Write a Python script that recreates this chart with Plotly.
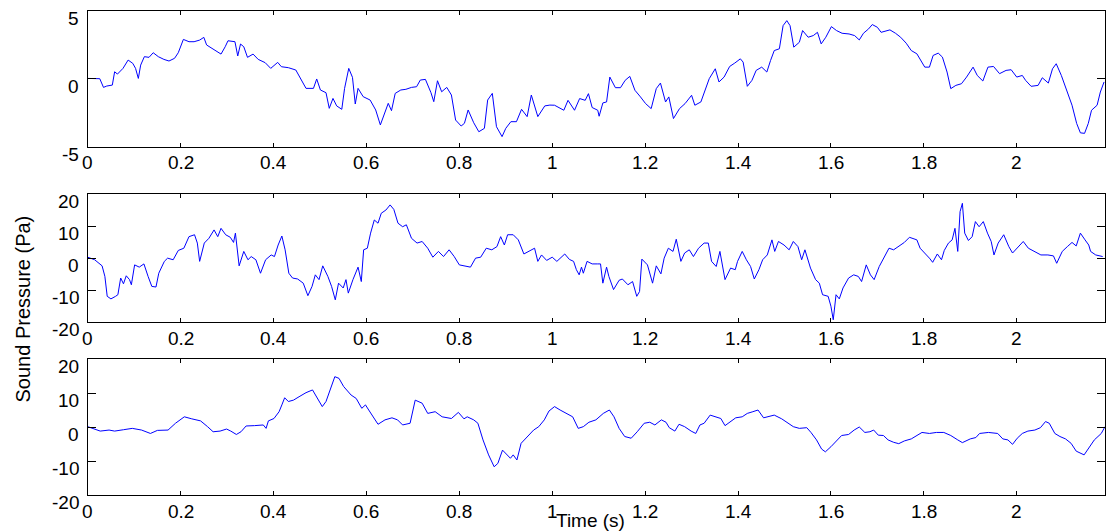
import plotly.graph_objects as go

# ---------------- data ----------------
t1 = [0, 0.026, 0.034, 0.041, 0.053, 0.058, 0.064, 0.076, 0.087, 0.097,
      0.103, 0.109, 0.114, 0.122, 0.132, 0.141, 0.152, 0.164, 0.175, 0.187,
      0.195, 0.206, 0.218, 0.229, 0.241, 0.25, 0.256, 0.271, 0.287, 0.296,
      0.302, 0.317, 0.323, 0.329, 0.336, 0.344, 0.356, 0.367, 0.382, 0.394,
      0.402, 0.409, 0.417, 0.432, 0.448, 0.459, 0.47, 0.486, 0.493, 0.501,
      0.513, 0.52, 0.528, 0.536, 0.547, 0.553, 0.562, 0.57, 0.576, 0.582,
      0.593, 0.608, 0.62, 0.63, 0.638, 0.647, 0.654, 0.662, 0.674, 0.685,
      0.697, 0.708, 0.716, 0.727, 0.739, 0.745, 0.753, 0.762, 0.773, 0.783,
      0.792, 0.804, 0.811, 0.819, 0.831, 0.842, 0.854, 0.861, 0.871, 0.88,
      0.892, 0.9, 0.911, 0.923, 0.934, 0.946, 0.955, 0.961, 0.969, 0.984,
      0.995,
      1.005, 1.017, 1.025, 1.034, 1.048, 1.059, 1.071, 1.078, 1.086, 1.098,
      1.101, 1.109, 1.117, 1.124, 1.136, 1.147, 1.157, 1.167, 1.178, 1.19,
      1.201, 1.213, 1.224, 1.233, 1.244, 1.251, 1.261, 1.274, 1.286, 1.3,
      1.307, 1.32, 1.328, 1.338, 1.351, 1.359, 1.37, 1.382, 1.393, 1.405,
      1.411, 1.42, 1.43, 1.439, 1.451, 1.462, 1.47, 1.478, 1.489, 1.497,
      1.505, 1.512, 1.52, 1.532, 1.539, 1.551, 1.562, 1.571, 1.579, 1.589,
      1.601, 1.612, 1.624, 1.639, 1.651, 1.661, 1.67, 1.681, 1.689, 1.7,
      1.708, 1.72, 1.727, 1.739, 1.75, 1.762, 1.773, 1.785, 1.793, 1.802,
      1.812, 1.82, 1.831, 1.84, 1.85, 1.858, 1.869, 1.881, 1.892, 1.906,
      1.915, 1.927, 1.938, 1.95, 1.963, 1.977, 1.988, 2.0, 2.012, 2.019,
      2.031, 2.046, 2.055, 2.068, 2.077, 2.085, 2.096, 2.108, 2.119, 2.129,
      2.137, 2.146, 2.154, 2.161, 2.173, 2.18, 2.188]
p1 = [0.02, 0.0, -0.64, -0.54, -0.47, 0.51, 0.34, 0.76, 1.37, 1.13,
      0.76, 0.02, 1.0, 1.62, 1.57, 1.91, 1.62, 1.42, 1.3, 1.5,
      1.91, 2.89, 2.72, 2.72, 2.84, 3.04, 2.48, 2.16, 1.81, 2.35,
      2.79, 2.72, 1.67, 2.55, 2.35, 1.57, 1.81, 1.42, 1.18, 0.76,
      1.0, 1.2, 0.88, 0.81, 0.64, -0.05, -0.71, -0.71, -0.02, -0.83,
      -1.03, -2.18, -1.45, -2.0, -2.25, -0.71, 0.76, 0.1, -1.86, -0.71,
      -1.32, -1.57, -2.3, -3.4, -2.67, -1.81, -2.35, -1.08, -0.83, -0.78,
      -0.64, -0.59, -0.1, -0.05, -1.03, -1.69, -0.15, -0.96, -0.64, -1.2,
      -3.04, -3.48, -3.28, -2.3, -3.24, -3.9, -3.65, -1.57, -1.08, -3.53,
      -4.26, -3.65, -3.16, -3.16, -2.25, -2.79, -1.2, -1.81, -2.79, -2.0,
      -1.94,
      -1.95, -2.2, -2.32, -1.59, -2.32, -1.46, -1.59, -1.1, -2.12, -2.32,
      -2.76, -1.78, -1.71, 0.12, -0.66, -0.66, -0.12, 0.17, -0.85, -1.34,
      -1.83, -2.2, -0.73, -0.32, -1.71, -1.34, -2.93, -2.2, -1.83, -1.22,
      -1.95, -1.71, -0.98, 0.0, 0.73, -0.24, 0.12, 0.9, 1.15, 1.46,
      1.22, -0.56, -0.12, 0.61, 0.85, 0.49, 1.34, 2.07, 2.2, 3.9,
      4.27, 3.9, 2.32, 2.68, 3.54, 3.05, 3.17, 3.41, 2.56, 3.05,
      3.83, 3.54, 3.34, 3.29, 3.17, 2.85, 3.34, 3.66, 3.98, 3.78,
      3.41, 3.54, 3.59, 3.34, 3.05, 2.61, 2.07, 1.83, 1.39, 0.85,
      0.85, 1.71, 1.88, 1.59, 0.49, -0.73, -0.49, -0.37, 0.12, 0.85,
      0.24, -0.17, 0.85, 0.9, 0.37, 0.61, 0.66, 0.12, 0.24, -0.12,
      -0.56, -0.49, 0.07, -0.32, 0.73, 1.1, 0.24, -0.85, -1.95, -3.29,
      -3.98, -4.02, -3.29, -2.32, -1.95, -0.98, -0.24]

t2 = [0, 0.015, 0.031, 0.037, 0.042, 0.05, 0.06, 0.065, 0.071, 0.077,
      0.083, 0.09, 0.094, 0.101, 0.111, 0.121, 0.13, 0.138, 0.147, 0.153,
      0.165, 0.172, 0.184, 0.195, 0.207, 0.218, 0.23, 0.236, 0.241, 0.251,
      0.261, 0.272, 0.28, 0.287, 0.297, 0.307, 0.314, 0.318, 0.326, 0.336,
      0.345, 0.352, 0.362, 0.372, 0.383, 0.395, 0.402, 0.41, 0.418, 0.425,
      0.433, 0.441, 0.452, 0.464, 0.474, 0.483, 0.49, 0.498, 0.506, 0.517,
      0.525, 0.533, 0.54, 0.55, 0.556, 0.561, 0.571, 0.579, 0.582, 0.589,
      0.594, 0.602, 0.609, 0.617, 0.625, 0.632, 0.642, 0.651, 0.659, 0.668,
      0.678, 0.686, 0.697, 0.709, 0.72, 0.732, 0.743, 0.755, 0.766, 0.778,
      0.789, 0.8, 0.812, 0.824, 0.835, 0.846, 0.858, 0.87, 0.881, 0.889,
      0.897, 0.904, 0.916, 0.927, 0.939, 0.95, 0.962, 0.969, 0.977, 0.988,
      1.0,
      1.01, 1.021, 1.027, 1.037, 1.046, 1.052, 1.058, 1.063, 1.067, 1.075,
      1.086, 1.098, 1.104, 1.109, 1.117, 1.122, 1.132, 1.144, 1.151, 1.163,
      1.173, 1.182, 1.188, 1.193, 1.205, 1.216, 1.224, 1.234, 1.241, 1.25,
      1.26, 1.267, 1.277, 1.285, 1.295, 1.304, 1.315, 1.327, 1.336, 1.343,
      1.353, 1.361, 1.372, 1.384, 1.394, 1.399, 1.409, 1.418, 1.427, 1.435,
      1.445, 1.453, 1.463, 1.473, 1.479, 1.487, 1.499, 1.51, 1.519, 1.529,
      1.537, 1.544, 1.556, 1.567, 1.575, 1.582, 1.594, 1.6, 1.605, 1.611,
      1.618, 1.626, 1.638, 1.649, 1.659, 1.666, 1.676, 1.685, 1.693, 1.704,
      1.714, 1.725, 1.735, 1.747, 1.758, 1.769, 1.785, 1.792, 1.802, 1.812,
      1.819, 1.829, 1.838, 1.844, 1.853, 1.861, 1.867, 1.873, 1.878, 1.883,
      1.888, 1.896, 1.904, 1.911, 1.919, 1.928, 1.937, 1.945, 1.951, 1.96,
      1.972, 1.983, 1.991, 2.0, 2.014, 2.025, 2.037, 2.052, 2.067, 2.079,
      2.086, 2.098, 2.109, 2.119, 2.128, 2.137, 2.147, 2.155, 2.159, 2.17,
      2.185]
p2 = [0.3, -0.5, -2.4, -5.7, -11.9, -12.7, -11.9, -11.4, -6.2, -8.0,
      -5.5, -6.7, -8.3, -2.1, -2.8, -1.8, -5.7, -8.8, -9.0, -4.7,
      -1.0, 0.0, -0.5, 2.4, 3.1, 6.7, 7.3, 4.7, -1.0, 4.7,
      6.2, 8.8, 6.7, 9.3, 7.3, 6.5, 4.9, 7.8, -2.4, 2.1,
      -0.5, 0.5, -0.5, -4.7, -0.5, 1.0, 0.5, 4.1, 6.9, 2.6,
      -4.7, -6.2, -6.5, -7.8, -11.7, -8.8, -5.2, -6.7, -2.4, -5.7,
      -8.8, -13.0, -7.8, -9.3, -6.7, -10.9, -6.7, -3.6, -2.8, -7.3,
      2.6, 3.1, 7.8, 11.9, 10.9, 14.0, 15.0, 16.6, 15.2, 10.9,
      9.8, 10.4, 6.2, 4.7, 5.2, 3.1, 0.3, 2.1, 0.5, 2.6,
      0.5, -2.1, -2.4, -2.8, 0.0, 0.3, 3.1, 2.6, 3.6, 6.7,
      4.1, 7.3, 7.3, 5.7, 1.3, 2.1, 3.1, -1.0, 1.0, -0.7,
      0.3,
      -1.0, 0.7, 1.3, -0.4, -1.0, -3.6, -5.2, -2.8, -4.7, -1.0,
      -1.8, -1.8, -1.8, -7.8, -2.8, -5.7, -9.8, -6.9, -6.5, -8.3,
      -7.3, -11.9, -10.4, -0.3, -2.1, -7.8, -2.4, -4.9, 0.0, 3.1,
      2.1, 5.9, -1.0, 1.6, 2.6, 0.5, 3.1, 4.7, 4.7, -1.0,
      -2.6, 2.1, -6.7, -3.1, -3.6, -1.0, 2.1, -0.5, -2.6, -6.5,
      -3.6, -0.5, 1.0, 5.7, 2.1, 5.2, 4.1, 2.6, 5.2, 3.6,
      -0.5, 2.6, -3.1, -6.7, -7.8, -11.4, -11.9, -15.0, -19.2, -11.4,
      -12.7, -9.3, -6.2, -5.2, -5.7, -7.3, -2.1, -5.2, -6.7, -2.6,
      0.0, 3.1, 2.6, 3.8, 4.9, 6.5, 5.7, 3.1, 1.6, 0.0,
      -1.3, 1.3, -0.5, 2.4, 4.7, 5.7, 9.3, 2.1, 14.5, 17.1,
      7.8, 5.5, 6.7, 11.4, 9.8, 11.4, 7.8, 5.2, 1.0, 4.7,
      7.3, 3.6, 1.6, 3.1, 5.2, 3.1, 2.1, 1.0, 1.0, 0.7,
      -1.6, 2.1, 3.6, 4.9, 3.8, 7.8, 5.7, 4.1, 2.1, 1.0,
      0.5]

t3 = [0, 0.012, 0.027, 0.046, 0.058, 0.077, 0.096, 0.116, 0.135, 0.15,
      0.173, 0.189, 0.208, 0.224, 0.243, 0.258, 0.27, 0.285, 0.299, 0.308,
      0.32, 0.33, 0.341, 0.359, 0.378, 0.384, 0.389, 0.401, 0.412, 0.418,
      0.424, 0.432, 0.443, 0.455, 0.47, 0.484, 0.493, 0.505, 0.513, 0.523,
      0.532, 0.541, 0.551, 0.567, 0.578, 0.59, 0.598, 0.605, 0.617, 0.625,
      0.64, 0.655, 0.667, 0.678, 0.694, 0.705, 0.72, 0.732, 0.748, 0.763,
      0.783, 0.798, 0.81, 0.817, 0.831, 0.84, 0.851, 0.863, 0.875, 0.883,
      0.893, 0.902, 0.91, 0.916, 0.924, 0.933, 0.948, 0.96, 0.971, 0.983,
      0.993,
      1.005, 1.017, 1.032, 1.044, 1.056, 1.067, 1.079, 1.094, 1.11, 1.123,
      1.133, 1.144, 1.156, 1.17, 1.183, 1.198, 1.21, 1.221, 1.235, 1.245,
      1.252, 1.264, 1.273, 1.285, 1.299, 1.309, 1.318, 1.327, 1.34, 1.353,
      1.363, 1.372, 1.383, 1.395, 1.409, 1.42, 1.432, 1.443, 1.455, 1.466,
      1.478, 1.494, 1.507, 1.519, 1.532, 1.548, 1.557, 1.569, 1.58, 1.588,
      1.6, 1.611, 1.623, 1.638, 1.65, 1.661, 1.673, 1.684, 1.692, 1.702,
      1.713, 1.723, 1.735, 1.746, 1.758, 1.773, 1.785, 1.796, 1.812, 1.827,
      1.843, 1.858, 1.873, 1.883, 1.9, 1.912, 1.92, 1.939, 1.959, 1.97,
      1.981, 1.991, 2.001, 2.012, 2.024, 2.039, 2.051, 2.062, 2.07, 2.082,
      2.093, 2.105, 2.117, 2.128, 2.145, 2.155, 2.167, 2.182, 2.19]
p3 = [0.1, -0.4, -1.2, -0.9, -1.2, -0.8, -0.4, -0.9, -1.9, -1.0,
      -0.9, 1.1, 3.0, 2.4, 1.8, 0.1, -1.4, -1.2, -0.6, -1.2,
      -2.2, -1.4, 0.3, 0.4, 0.6, -0.4, 1.8, 2.5, 4.5, 6.5,
      8.6, 7.5, 7.9, 8.9, 10.1, 10.9, 8.9, 6.0, 7.5, 11.4,
      14.8, 14.3, 11.9, 9.4, 8.4, 5.5, 6.5, 5.0, 2.5, 0.8,
      2.1, 2.7, 2.1, 0.6, 1.1, 7.9, 7.0, 4.0, 4.5, 3.0,
      2.5, 4.3, 2.4, 3.0, 2.1, 1.1, -3.8, -8.2, -11.7, -10.7,
      -6.8, -8.2, -9.2, -8.2, -9.7, -4.8, -2.8, -0.9, 0.1, 2.1,
      4.7,
      6.0, 5.0, 4.0, 3.0, -0.4, 0.1, 1.4, 2.1, 4.0, 5.0,
      3.0, -0.4, -2.8, -3.3, -1.4, 1.1, 1.4, 0.6, 2.1, 1.4,
      -0.2, -1.2, 0.8, 0.1, -1.2, -1.9, 0.6, 1.1, 3.5, 3.0,
      2.5, 0.4, 1.6, 2.7, 3.0, 4.0, 4.5, 5.0, 2.7, 3.0,
      3.5, 2.4, 1.1, 0.1, -0.4, -0.2, -1.6, -3.8, -6.5, -7.3,
      -5.8, -4.3, -2.5, -2.2, -0.9, 0.0, -1.6, -1.4, -0.9, -2.4,
      -2.5, -3.8, -4.5, -4.9, -4.1, -3.5, -2.4, -1.6, -1.9, -1.6,
      -1.6, -2.5, -3.8, -4.6, -3.5, -3.1, -1.9, -1.6, -1.9, -3.5,
      -3.8, -5.1, -3.3, -1.9, -1.2, -0.9, -0.2, 1.6, 1.1, -1.9,
      -2.8, -3.5, -4.8, -7.1, -8.2, -6.3, -3.8, -1.9, 0.1]

x_ticks = [0, 0.2, 0.4, 0.6, 0.8, 1.0, 1.2, 1.4, 1.6, 1.8, 2.0]
x_tick_labels = ["0", "0.2", "0.4", "0.6", "0.8", "1", "1.2", "1.4", "1.6", "1.8", "2"]
y1_ticks = [-5, 0, 5]
y23_ticks = [-20, -10, 0, 10, 20]
x_range = [0, 2.19]
y1_range = [-5, 5]
y23_range = [-20, 20]
x_title = "Time (s)"
y_title = "Sound Pressure (Pa)"

# ---------------- layout geometry (pixels of the 1106x531 page) ----------------
W, H = 1106, 531
left_px, right_px = 87.7, 1105.0
panels_px = [(10.7, 146.7), (194.0, 322.3), (359.0, 495.0)]
FONT = "Liberation Sans, Arial, Helvetica, sans-serif"
TICK_FONT = 19
BLUE = "#0000FF"

series = [(t1, p1, y1_range, y1_ticks), (t2, p2, y23_range, y23_ticks), (t3, p3, y23_range, y23_ticks)]

fig = go.Figure()
annotations = []
for i, (tt, pp, yr, yt) in enumerate(series, start=1):
    sfx = "" if i == 1 else str(i)
    fig.add_trace(go.Scatter(x=tt[:len(pp)], y=pp[:len(tt)], mode="lines",
                             line=dict(color=BLUE, width=1),
                             xaxis="x" + sfx, yaxis="y" + sfx, showlegend=False,
                             hoverinfo="skip"))
    top, bot = panels_px[i - 1]
    fig.layout["xaxis" + sfx] = dict(
        domain=[left_px / W, right_px / W], range=x_range, anchor="y" + sfx,
        showgrid=False, zeroline=False, showline=True, linecolor="black", linewidth=1.3,
        mirror="ticks", ticks="inside", ticklen=4, tickwidth=1, tickcolor="black",
        tickvals=x_ticks, showticklabels=False, fixedrange=True)
    fig.layout["yaxis" + sfx] = dict(
        domain=[1 - bot / H, 1 - top / H], range=yr, anchor="x" + sfx,
        showgrid=False, zeroline=False, showline=True, linecolor="black", linewidth=1.3,
        mirror="ticks", ticks="inside", ticklen=8, tickwidth=1, tickcolor="black",
        tickvals=yt, showticklabels=False, fixedrange=True)
    for v, lab in zip(x_ticks, x_tick_labels):
        annotations.append(dict(x=v, xref="x" + sfx, y=0, yref="y" + sfx + " domain",
                                text=lab, showarrow=False, xanchor="center", yanchor="middle",
                                yshift=-16, font=dict(family=FONT, size=TICK_FONT, color="black")))
    for v in yt:
        annotations.append(dict(x=0, xref="x" + sfx + " domain", y=v, yref="y" + sfx,
                                text=str(v), showarrow=False, xanchor="right", yanchor="middle",
                                xshift=-7, yshift=-7.5,
                                font=dict(family=FONT, size=TICK_FONT, color="black")))

annotations.append(dict(x=590 / W, y=1 - 520 / H, xref="paper", yref="paper", text=x_title,
                        showarrow=False, xanchor="center", yanchor="middle",
                        font=dict(family=FONT, size=19, color="black")))
annotations.append(dict(x=22 / W, y=1 - 309.5 / H, xref="paper", yref="paper", text=y_title,
                        showarrow=False, xanchor="center", yanchor="middle", textangle=-90,
                        font=dict(family=FONT, size=20, color="black")))

fig.update_layout(width=W, height=H, margin=dict(l=0, r=0, t=0, b=0),
                  paper_bgcolor="white", plot_bgcolor="white",
                  annotations=annotations, showlegend=False,
                  font=dict(family=FONT, size=TICK_FONT, color="black"))

fig.write_html("out.html", config={"displayModeBar": False})
